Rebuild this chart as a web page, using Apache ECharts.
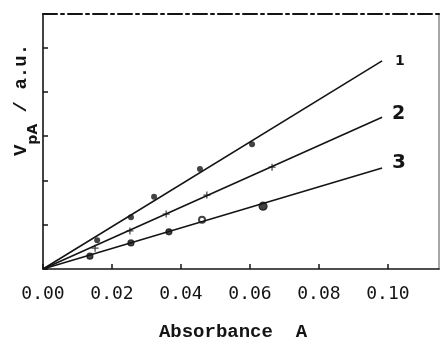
<!DOCTYPE html>
<html><head><meta charset="utf-8">
<script src="https://cdn.jsdelivr.net/npm/echarts@6/dist/echarts.min.js"></script>
<style>html,body{margin:0;padding:0;background:#fff}#c{width:440px;height:338px}</style>
</head><body><div id="c"></div>
<script>
// Data
const xTicks = [0.00, 0.02, 0.04, 0.06, 0.08, 0.10];
const s1x = [0.0157, 0.0255, 0.0322, 0.0455, 0.0606];
const s1y = [0.65, 1.17, 1.63, 2.26, 2.82];
const s2x = [0.0151, 0.0252, 0.0357, 0.0475, 0.0664];
const s2y = [0.47, 0.86, 1.24, 1.67, 2.30];
const s3x = [0.0136, 0.0255, 0.0365, 0.0461, 0.0638];
const s3y = [0.29, 0.59, 0.84, 1.11, 1.42];
const lineEndX = 0.0983;
const lineEndY = [4.70, 3.43, 2.28];
const lineNames = ['1', '2', '3'];

const ink = '#141414';
const chart = echarts.init(document.getElementById('c'));
const zip = (xs, ys) => xs.map((x, i) => [x, ys[i]]);
const crossPath = 'path://M3.3,0 L4.7,0 L4.7,3.3 L8,3.3 L8,4.7 L4.7,4.7 L4.7,8 L3.3,8 L3.3,4.7 L0,4.7 L0,3.3 L3.3,3.3 Z';

const lineSeries = lineNames.map((n, i) => ({
  type: 'line', name: n, data: [[0, 0], [lineEndX, lineEndY[i]]],
  symbol: 'none', lineStyle: { color: ink, width: 1.6 }, silent: true,
  endLabel: { show: true, formatter: n, color: ink,
    fontFamily: 'DejaVu Sans', fontSize: [14, 19, 20][i], fontWeight: 'bold',
    offset: [[5, 0], [2, -3], [2, -5]][i] }
}));

const s3data = zip(s3x, s3y).map((p, i) => {
  if (i === 3) return { value: p, symbol: 'emptyCircle', symbolSize: 6 };
  if (i === 4) return { value: p, symbolSize: 8 };
  return p;
});

chart.setOption({
  animation: false,
  grid: { left: 43, right: 1, top: 14, bottom: 69, outerBoundsMode: 'none', containLabel: false },
  xAxis: [{
    type: 'value', min: 0, max: 0.1148, interval: 0.02,
    axisLine: { lineStyle: { color: ink, width: 1.6 } },
    axisTick: { inside: true, length: 5, lineStyle: { color: ink, width: 1.5 } },
    splitLine: { show: false },
    axisLabel: { showMaxLabel: false, margin: 16, color: ink, fontFamily: 'DejaVu Sans Mono', fontSize: 18,
      formatter: v => xTicks.some(t => Math.abs(t - v) < 1e-9) ? v.toFixed(2) : '' },
    name: 'Absorbance  A', nameLocation: 'middle', nameGap: 54,
    nameTextStyle: { color: ink, fontFamily: 'Liberation Mono', fontWeight: 'bold', fontSize: 19, padding: [0, 16, 0, 0] }
  }, {
    type: 'value', position: 'top', min: 0, max: 0.1148,
    axisLine: { show: true, onZero: false, lineStyle: { color: ink, width: 2, type: [14, 4, 3, 4] } },
    axisTick: { show: false }, axisLabel: { show: false }, splitLine: { show: false }
  }],
  yAxis: [{
    type: 'value', min: 0, max: 5.76, interval: 1,
    axisLine: { show: true, lineStyle: { color: ink, width: 1.6 } },
    axisTick: { show: true, inside: true, length: 5, lineStyle: { color: ink, width: 1.5 } },
    axisLabel: { show: false }, splitLine: { show: false }
  }, {
    type: 'value', position: 'right', min: 0, max: 5.76,
    axisLine: { show: true, onZero: false, lineStyle: { color: '#8a8a8a', width: 1.5 } },
    axisTick: { show: false }, axisLabel: { show: false }, splitLine: { show: false }
  }],
  graphic: [{
    type: 'text', x: 26, y: 100, rotation: Math.PI / 2,
    style: {
      text: '{v|V}{s|pA}{v| / a.u.}', align: 'center', verticalAlign: 'middle',
      rich: {
        v: { fontFamily: 'Liberation Mono', fontWeight: 'bold', fontSize: 19, fill: ink, lineHeight: 28, verticalAlign: 'top' },
        s: { fontFamily: 'DejaVu Sans', fontWeight: 'bold', fontSize: 14, fill: ink, lineHeight: 28, verticalAlign: 'bottom' }
      }
    }
  }],
  series: [
    ...lineSeries,
    { type: 'scatter', data: zip(s1x, s1y), symbol: 'circle', symbolSize: 6, itemStyle: { color: ink } },
    { type: 'scatter', data: zip(s2x, s2y), symbol: crossPath, symbolSize: 7, itemStyle: { color: ink } },
    { type: 'scatter', data: s3data, symbol: 'circle', symbolSize: 6, itemStyle: { color: ink, borderColor: ink, borderWidth: 1.2 } }
  ]
});
</script></body></html>
